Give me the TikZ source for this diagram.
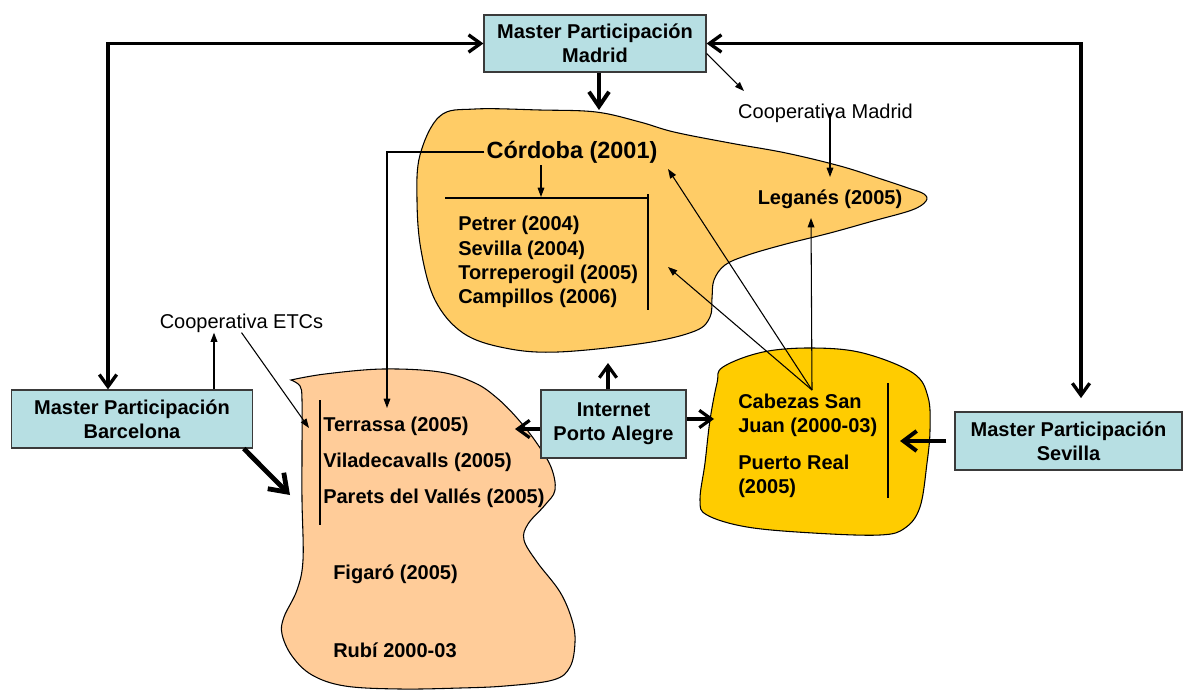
\documentclass[tikz,border=0pt]{standalone}
\usepackage{fontspec}
\setmainfont{Liberation Sans}
\usetikzlibrary{arrows.meta,calc}
\definecolor{boxblue}{HTML}{B7DFE3}
\definecolor{boxedge}{HTML}{3A3A3A}
\definecolor{cordfill}{HTML}{FFCC66}
\definecolor{barfill}{HTML}{FFCC99}
\definecolor{cabfill}{HTML}{FFCC00}
\begin{document}
\begin{tikzpicture}[x=0.75pt,y=-0.75pt,
  masterbox/.style={draw=boxedge, fill=boxblue, line width=0.9pt, align=center,
    font=\fontsize{15}{18}\selectfont\bfseries, inner sep=0pt},
  lbl/.style={font=\fontsize{15}{18.2}\selectfont\bfseries, inner sep=0pt, align=left},
  coop/.style={font=\fontsize{15}{18}\selectfont, inner sep=0pt},
  bigarrow/.style={line width=2.4pt, -{Straight Barb[length=9pt,width=13pt]}},
  thinarrow/.style={line width=0.8pt, -{Triangle[length=7pt,width=5pt]}},
  thinline/.style={line width=0.8pt},
  blob/.style={draw=black, line width=0.8pt}
]
\useasboundingbox (0,0) rectangle (1184,689);

% ---- blobs ----
\draw[blob, fill=cordfill] plot[smooth cycle, tension=0.6] coordinates {
  (440,116) (475,109) (540,110) (596,112) (640,122) (674,132) (730,143) (786,153)
  (840,166) (878,178) (908,188) (924,194) (926,201) (912,210) (873,221) (830,233) (786,244)
  (748,255) (725,265) (714,280) (712,298) (710,317) (695,331) (645,343) (558,352)
  (505,348) (463,333) (435,300) (421,250) (417,200) (420,155)};
\draw[blob, fill=cabfill] plot[smooth cycle, tension=0.6] coordinates {
  (723,367) (763,352) (813,348) (863,353) (913,373) (928,397) (930,430) (927,463)
  (920,507) (905,528) (880,535) (813,533) (747,527) (707,515) (700,500) (705,463)
  (710,420) (717,383)};
\draw[blob, fill=barfill] plot[smooth, tension=0.6] coordinates {
  (291,380) (300,386) (302,400) (302,450) (302,500) (303,560) (297,590) (284,617)
  (282,634) (292,656) (312,675) (345,686) (400,689) (460,688) (505,686) (553,680)
  (570,667) (575,642) (572,620) (560,592) (537,562) (524,540) (528,524) (545,505)
  (555,490) (551,467) (536,442) (517,418) (497,398) (475,383) (440,372) (383,369)
  (325,374) (291,380)} -- cycle;

% ---- boxes ----
\node[masterbox, minimum width=166.5pt, minimum height=42.75pt] (madrid) at (595,43.5)
  {Master Participación\\Madrid};
\node[masterbox, minimum width=180.75pt, minimum height=43.5pt] (barcelona) at (132,419)
  {Master Participación\\Barcelona};
\node[masterbox, minimum width=170.25pt, minimum height=43.5pt] (sevilla) at (1068.5,441)
  {Master Participación\\Sevilla};
\node[masterbox, minimum width=108.75pt, minimum height=51pt] (internet) at (613.5,424)
  {Internet\\Porto Alegre};

% ---- texts ----
\node[lbl, font=\fontsize{17.6}{21}\selectfont\bfseries, inner sep=1.5pt] (cordoba) at (572,152) {Córdoba (2001)};
\node[lbl, anchor=west] (cordlist) at (458,262)
  {Petrer (2004)\\Sevilla (2004)\\Torreperogil (2005)\\Campillos (2006)};
\node[lbl] (leganes) at (830,199) {Leganés (2005)};
\node[coop] (coopmadrid) at (825.5,113) {Cooperativa Madrid};
\node[coop] (coopetc) at (241.5,323) {Cooperativa ETCs};
\node[lbl, anchor=west] (terrassa) at (323,426) {Terrassa (2005)};
\node[lbl, anchor=west] (vila) at (323,462) {Viladecavalls (2005)};
\node[lbl, anchor=west] (parets) at (323,498) {Parets del Vallés (2005)};
\node[lbl, anchor=west] (figaro) at (333,574) {Figaró (2005)};
\node[lbl, anchor=west] (rubi) at (333,650) {Rubí 2000-03};
\node[lbl, anchor=west] (cabezas) at (738,415) {Cabezas San\\Juan (2000-03)};
\node[lbl, anchor=west] (puerto) at (738,476.5) {Puerto Real\\(2005)};

% ---- named free ends ----
\coordinate (cordtop) at (599,110);
\coordinate (coopmtip) at (744,91);
\coordinate (legtop) at (830,177);
\coordinate (listtop) at (541,197);
\coordinate (terrtop) at (387,408);
\coordinate (etctip) at (309,428);
\coordinate (barbl) at (290,495);
\coordinate (barleft) at (515,429);
\coordinate (cableft) at (714,419);
\coordinate (intup) at (608,363);
\coordinate (sevtip) at (900,441);
\coordinate (cv) at (812,390);
\coordinate (cordtip) at (668,169);
\coordinate (torretip) at (668,267);
\coordinate (legbot) at (811,218);

% ---- bracket lines ----
\draw[thinline] (445,198) -- (648,198);
\draw[thinline] (648,194) -- (648,310);
\draw[thinline] (320,400) -- (320,525);
\draw[thinline] (888,383) -- (888,498);

% ---- thick arrows ----
\draw[line width=2.5pt, {Straight Barb[length=9pt,width=13pt]}-{Straight Barb[length=9pt,width=13pt]}]
  (madrid.west) -| (108,0 |- barcelona.north);
\draw[line width=2.5pt, {Straight Barb[length=9pt,width=13pt]}-{Straight Barb[length=9pt,width=13pt]}, shorten >=10pt]
  (madrid.east) -| (1081,0 |- sevilla.north);
\draw[bigarrow, line width=3pt, -{Straight Barb[length=11pt,width=15pt]}] (599,0 |- madrid.south) -- (cordtop);
\draw[bigarrow] (608,0 |- internet.north) -- (intup);
\draw[bigarrow] ([yshift=-3.75pt]internet.west) -- (barleft);
\draw[bigarrow] ([yshift=3.75pt]internet.east) -- (cableft);
\draw[bigarrow, line width=3pt, shorten <=6pt, -{Straight Barb[length=10pt,width=15pt]}] (sevilla.west) -- (sevtip);
\draw[bigarrow, line width=3.6pt, -{Straight Barb[length=12pt,width=17pt]}] ([xshift=-7pt]barcelona.south east) -- (barbl);

% ---- thin arrows ----
\draw[thinarrow, line width=1.1pt] (214,0 |- barcelona.north) -- (214,0 |- coopetc.south);
\draw[thinarrow] (coopetc.south) -- (etctip);
\draw[thinarrow] ([yshift=-7.5pt]madrid.east) -- (coopmtip);
\draw[thinarrow] (830,0 |- coopmadrid.center) -- (legtop);
\draw[thinarrow] (541,0 |- cordoba.south) -- (listtop);
\draw[thinarrow] (cordoba.west) -| (terrtop);
\draw[thinarrow] (cv) -- (cordtip);
\draw[thinarrow] (cv) -- (torretip);
\draw[thinarrow] (cv) -- (legbot);
\end{tikzpicture}
\end{document}
